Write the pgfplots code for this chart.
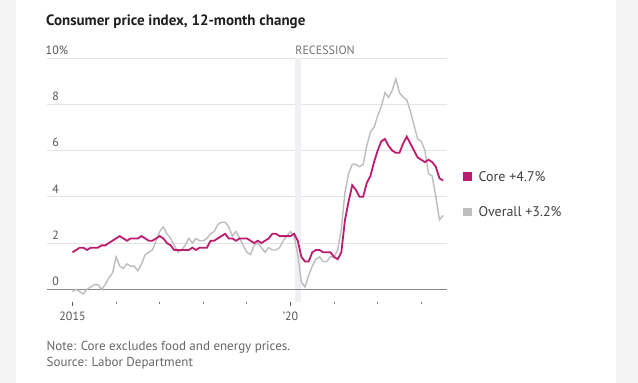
\documentclass[border=0pt]{standalone}
\usepackage{pgfplots}
\usepackage{pgfplotstable}
\pgfplotsset{compat=1.18}
\usepackage{fontspec}
\setmainfont{PT Sans}
\definecolor{core}{HTML}{BC1C70}
\definecolor{overall}{HTML}{BDBDBD}
\definecolor{gridc}{HTML}{E4E4E4}
\definecolor{bgc}{HTML}{F3F3F3}
\definecolor{shadec}{HTML}{EEF0F3}
\definecolor{txt}{HTML}{555555}
\pgfplotstableread{
i overall core
0 -0.1 1.6
1 0.0 1.7
2 -0.1 1.8
3 -0.2 1.8
4 0.0 1.7
5 0.1 1.8
6 0.2 1.8
7 0.2 1.8
8 0.0 1.9
9 0.2 1.9
10 0.5 2.0
11 0.7 2.1
12 1.4 2.2
13 1.0 2.3
14 0.9 2.2
15 1.1 2.1
16 1.0 2.2
17 1.0 2.2
18 0.8 2.2
19 1.1 2.3
20 1.5 2.2
21 1.6 2.1
22 1.7 2.1
23 2.1 2.2
24 2.5 2.3
25 2.7 2.2
26 2.4 2.0
27 2.2 1.9
28 1.9 1.7
29 1.6 1.7
30 1.7 1.7
31 1.9 1.7
32 2.2 1.7
33 2.0 1.8
34 2.2 1.7
35 2.1 1.8
36 2.1 1.8
37 2.2 1.8
38 2.4 2.1
39 2.5 2.1
40 2.8 2.2
41 2.9 2.3
42 2.9 2.4
43 2.7 2.2
44 2.3 2.2
45 2.5 2.1
46 2.2 2.2
47 1.9 2.2
48 1.6 2.2
49 1.5 2.1
50 1.9 2.0
51 2.0 2.1
52 1.8 2.0
53 1.6 2.1
54 1.8 2.2
55 1.7 2.4
56 1.7 2.4
57 1.8 2.3
58 2.1 2.3
59 2.3 2.3
60 2.5 2.3
61 2.3 2.4
62 1.5 2.1
63 0.3 1.4
64 0.1 1.2
65 0.6 1.2
66 1.0 1.6
67 1.3 1.7
68 1.4 1.7
69 1.2 1.6
70 1.2 1.6
71 1.4 1.6
72 1.4 1.4
73 1.7 1.3
74 2.6 1.6
75 4.2 3.0
76 5.0 3.8
77 5.4 4.5
78 5.4 4.3
79 5.3 4.0
80 5.4 4.0
81 6.2 4.6
82 6.8 4.9
83 7.0 5.5
84 7.5 6.0
85 7.9 6.4
86 8.5 6.5
87 8.3 6.2
88 8.6 6.0
89 9.1 5.9
90 8.5 5.9
91 8.3 6.3
92 8.2 6.6
93 7.7 6.3
94 7.1 6.0
95 6.5 5.7
96 6.4 5.6
97 6.0 5.5
98 5.0 5.6
99 4.9 5.5
100 4.0 5.3
101 3.0 4.8
102 3.2 4.7
}\cpidata
\begin{document}
\begin{tikzpicture}[x=1pt,y=1pt]
\fill[bgc] (0,0) rectangle (638,-383);
\fill[white] (16,0) rectangle (616,-383);
\useasboundingbox (0,0) rectangle (638,-383);
\node[anchor=base west, inner sep=0, font=\bfseries\fontsize{15}{17}\selectfont, text=black!88] at (46,-25.5) {Consumer price index, 12-month change};
\begin{axis}[
  at={(47pt,-289.3pt)}, anchor=south west, scale only axis,
  width=400pt, height=231.3pt,
  xmin=-7.02, xmax=103.08, ymin=0, ymax=10,
  clip=false,
  axis line style={draw=none},
  ytick={0,2,4,6,8,10},
  yticklabels={0,2,4,6,8,10\rlap{\%}},
  ymajorgrids, grid style={gridc, line width=0.8pt},
  xtick={0,12,24,36,48,60,72,84,96},
  xticklabels={2015,,,,,’20,,,},
  major tick length=0pt,
  /pgf/number format/assume math mode=true,
  yticklabel style={anchor=base east, inner sep=0pt, xshift=12pt, yshift=3.6pt, font=\fontsize{12}{14}\selectfont, text=txt},
  xticklabel style={anchor=north, inner sep=0pt, yshift=-22.5pt, font=\fontsize{12}{14}\selectfont, text=txt},
]
\fill[shadec] (axis cs:61.25,10) rectangle (axis cs:62.9,-0.55);
\draw[black!47, line width=1.5pt] (axis cs:-7.02,0) -- (axis cs:103.08,0);
\pgfplotsinvokeforeach{12,24,36,48,72,84,96}{
  \draw[black!55, line width=0.8pt] ([yshift=-12.4pt]axis cs:#1,0) -- ([yshift=-15pt]axis cs:#1,0);
}
\pgfplotsinvokeforeach{0,60}{
  \draw[black!65, line width=0.8pt] ([yshift=-12.4pt]axis cs:#1,0) -- ([yshift=-16.4pt]axis cs:#1,0);
}
\addplot[overall, line width=1.4pt, no marks] table[x=i, y=overall] {\cpidata};
\addplot[core, line width=1.8pt, no marks] table[x=i, y=core] {\cpidata};
\node[anchor=base west, inner sep=0, font=\fontsize{12}{14}\selectfont, text=black!55] at ([yshift=3.2pt]axis cs:61.3,10) {RECESSION};
\end{axis}
\fill[core] (463,-172) rectangle (471.5,-180.5);
\node[anchor=base west, inner sep=0, font=\fontsize{14}{16}\selectfont, text=black!75] at (478.5,-181) {Core +4.7\%};
\fill[overall] (463,-207.5) rectangle (471.5,-216);
\node[anchor=base west, inner sep=0, font=\fontsize{14}{16}\selectfont, text=black!75] at (478.5,-216.5) {Overall +3.2\%};
\node[anchor=base west, inner sep=0, font=\fontsize{13}{15}\selectfont, text=black!60] at (46.5,-350) {Note: Core excludes food and energy prices.};
\node[anchor=base west, inner sep=0, font=\fontsize{13}{15}\selectfont, text=black!60] at (46.5,-366) {Source: Labor Department};
\end{tikzpicture}
\end{document}
